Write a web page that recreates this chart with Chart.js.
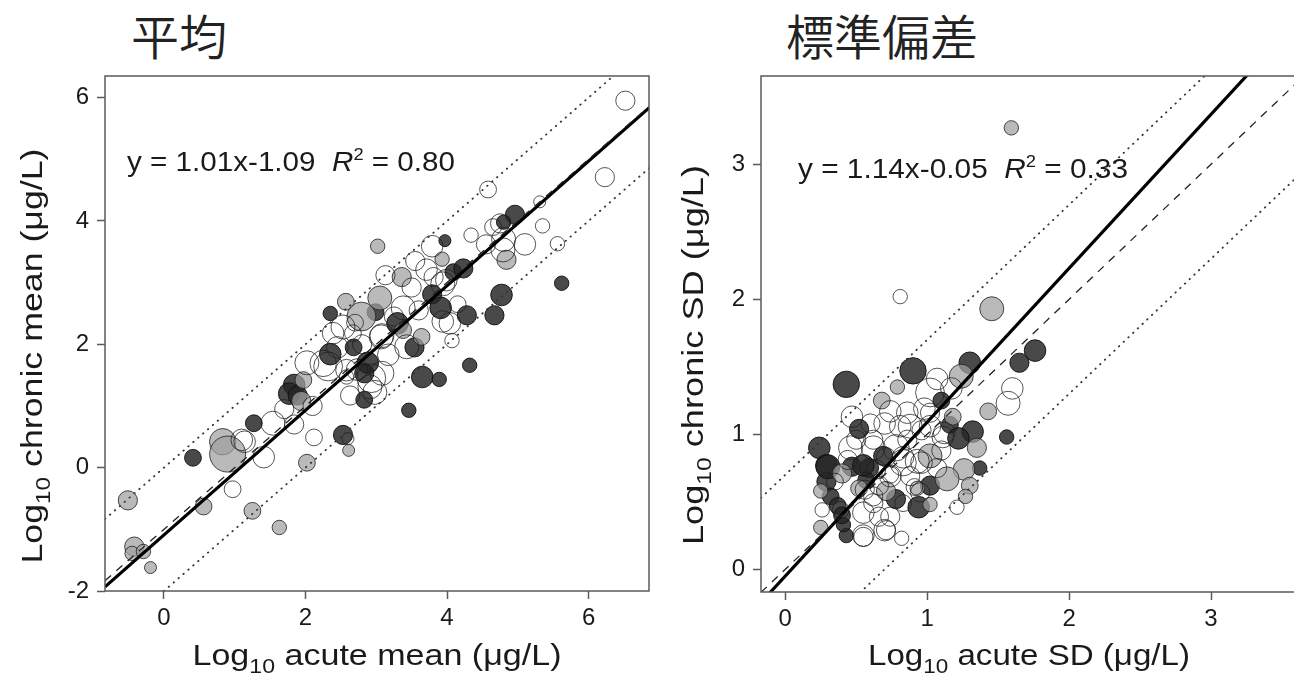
<!DOCTYPE html>
<html><head><meta charset="utf-8">
<script src="https://cdn.jsdelivr.net/npm/chart.js@4.4.1/dist/chart.umd.min.js"></script>
<style>
html,body{margin:0;padding:0;background:#fff;overflow:hidden;width:1294px;height:673px;}
#wrap{position:relative;width:1294px;height:673px;overflow:hidden;background:#fff;}
.ttl{position:absolute;top:10px;font-family:"Noto Sans CJK JP DemiLight","Noto Sans CJK JP Light","Noto Sans CJK JP",sans-serif;font-weight:200;font-size:48px;line-height:1;color:#222;white-space:nowrap;}
.box{position:absolute;top:0;}
canvas{display:block;}
</style></head>
<body><div id="wrap">
<div class="ttl" style="left:131px">平均</div>
<div class="ttl" style="left:786px">標準偏差</div>
<div class="box" style="left:0;width:700px;height:673px"><canvas id="c1" width="700" height="673"></canvas></div>
<div class="box" style="left:600px;width:720px;height:673px"><canvas id="c2" width="720" height="673"></canvas></div>
</div>
<script>
const FONT = '"Liberation Sans", Arial, Helvetica, sans-serif';

// ---------- Panel 1: mean (Log10 acute mean vs Log10 chronic mean) ----------
const meanXRange = [-0.833, 6.854];
const meanYRange = [-2, 6.35];
const meanXTicks = [0, 2, 4, 6];
const meanYTicks = [-2, 0, 2, 4, 6];
// [x, y, bubble size]
const meanOpen = [
  [6.52,5.95,8],[6.23,4.71,8],[4.58,4.51,7],[5.31,4.31,5],[5.35,3.92,6],[4.65,3.90,7],
  [4.34,3.77,6],[5.10,3.62,9],[4.80,3.70,10],[4.55,3.62,8],[5.56,3.63,6],[4.75,3.96,8],
  [4.79,3.53,10],[3.79,3.59,9],[3.71,3.21,9],[3.81,3.09,8],[3.94,2.98,10],[3.99,3.04,9],
  [3.94,2.37,9],[4.07,2.06,6],[4.04,2.34,9],[3.13,3.12,8],[3.50,2.92,8],[3.38,2.59,10],
  [2.53,2.28,10],[3.08,2.14,10],[2.39,2.18,9],[2.67,2.18,7],[3.07,2.12,10],[3.43,1.96,10],
  [3.17,1.83,9],[2.02,1.70,10],[2.25,1.69,11],[2.32,1.64,12],[2.58,1.58,9],[2.73,1.59,9],
  [3.08,1.53,10],[2.93,1.45,12],[2.58,1.47,6],[2.91,1.31,10],[2.98,1.22,10],[2.10,1.00,8],
  [2.63,1.17,8],[1.54,0.72,10],[1.84,0.70,8],[2.12,0.49,7],[2.60,0.47,5],[1.14,0.42,9],
  [1.41,0.17,9],[1.10,0.45,9],[0.97,-0.35,7],[2.45,1.95,9],[2.80,2.00,8],[3.25,2.45,8],
  [2.70,2.35,7],[3.60,2.55,8],[4.15,2.65,7],[3.55,3.35,8],[1.70,0.95,8]
];
const meanGray = [
  [4.84,3.37,8],[3.93,3.38,6],[3.02,3.59,6],[3.36,3.09,8],[3.05,2.75,10],[2.57,2.69,7],
  [2.79,2.45,12],[3.38,2.23,7],[3.64,2.12,7],[1.97,1.42,7],[1.94,1.08,8],[2.61,0.28,5],
  [2.02,0.08,7],[0.83,0.42,11],[0.90,0.22,15],[0.56,-0.63,7],[1.25,-0.70,7],[1.63,-0.97,6],
  [-0.51,-0.53,8],[-0.42,-1.28,8],[-0.45,-1.39,6],[-0.29,-1.36,6],[-0.19,-1.62,5]
];
const meanDark = [
  [4.96,4.10,8],[4.80,3.98,6],[3.97,3.68,5],[5.62,2.99,6],[4.77,2.80,9],[4.67,2.47,8],
  [4.28,2.47,8],[4.32,1.66,6],[3.65,1.47,9],[3.89,1.43,6],[3.46,0.93,6],[4.09,3.17,7],
  [4.23,3.23,8],[3.79,2.81,8],[3.91,2.59,9],[2.35,2.50,6],[2.99,2.52,7],[3.30,2.34,9],
  [3.54,1.95,8],[2.35,1.84,9],[2.68,1.95,7],[2.88,1.70,9],[2.83,1.53,8],[1.84,1.34,9],
  [1.77,1.20,9],[1.89,1.17,8],[2.83,1.10,7],[1.27,0.72,7],[2.53,0.53,8],[0.41,0.16,7]
];
const meanFit = [1.01, -1.09];      // slope, intercept (regression)
const meanRef = [1, -1];            // dashed reference line
const meanBands = [0, -2];          // intercepts of dotted lines (slope 1)
const meanEq = ['y = 1.01x-1.09  ', '0.80'];

// ---------- Panel 2: SD ----------
const sdXRange = [-0.171, 3.627];
const sdYRange = [-0.168, 3.654];
const sdXTicks = [0, 1, 2, 3];
const sdYTicks = [0, 1, 2, 3];
const sdOpen = [
  [0.81,2.02,6],[1.60,1.34,9],[1.57,1.23,10],[1.21,0.46,6],[0.82,0.23,6],[0.55,0.25,9],
  [0.70,0.29,9],[0.62,0.90,10],[0.78,0.90,11],[0.88,1.06,10],[0.70,1.08,9],[0.86,1.16,9],
  [1.02,1.31,12],[1.07,1.41,9],[1.17,1.34,9],[1.02,1.06,9],[1.12,1.01,9],[0.93,0.80,10],
  [0.83,0.83,9],[0.74,0.70,7],[0.46,0.90,10],[0.55,0.42,9],[0.26,0.44,6],[0.62,0.54,8],
  [0.95,0.57,8],[1.07,0.75,8],[0.47,1.13,9],[0.74,1.17,9],[0.81,1.06,9],[0.60,1.08,8],
  [0.62,0.96,8],[0.86,0.96,8],[0.96,1.03,8],[1.02,1.16,8],[1.11,0.98,9],[1.10,0.88,8],
  [0.50,0.96,8],[0.44,0.81,8],[0.71,0.83,8],[0.83,0.79,11],[0.96,0.79,9],[0.64,0.74,8],
  [0.74,0.69,9],[0.56,0.59,8],[0.66,0.39,8],[0.74,0.39,8],[0.71,0.29,8],[0.55,0.24,8],
  [0.62,0.49,8],[0.91,0.61,7],[0.83,0.49,7],[0.39,0.44,7],[0.35,0.65,7],[0.98,1.19,9],
  [0.66,0.62,8],[0.88,0.69,8]
];
const sdGray = [
  [1.593,3.27,6],[1.455,1.93,10],[0.79,1.35,6],[1.43,1.17,7],[1.35,0.90,8],[1.26,0.74,9],
  [1.14,0.67,10],[1.30,0.62,7],[1.27,0.54,6],[0.25,0.31,6],[0.71,0.58,8],[0.25,0.58,6],
  [0.40,0.71,8],[0.68,1.25,7],[1.24,1.43,10],[1.02,0.84,10],[0.52,0.60,7],[0.93,0.60,6],
  [1.18,1.13,7],[1.02,0.48,6]
];
const sdDark = [
  [1.76,1.62,9],[1.65,1.53,8],[1.30,1.53,9],[0.90,1.47,11],[0.43,1.37,11],[1.56,0.98,6],
  [1.32,1.02,9],[1.37,0.75,6],[0.43,0.25,6],[0.41,0.33,6],[0.94,0.46,9],[1.02,0.62,8],
  [0.78,0.52,8],[0.24,0.90,9],[0.29,0.77,9],[0.29,0.65,8],[0.32,0.54,7],[0.37,0.47,7],
  [0.47,0.76,8],[0.52,1.04,8],[0.59,0.75,8],[0.57,0.66,7],[1.10,1.25,7],[1.16,1.07,7],
  [1.22,0.97,9],[0.55,0.77,9],[0.30,0.76,10],[0.40,0.40,7],[0.69,0.84,8]
];
const sdFit = [1.14, -0.05];
const sdRef = [1, 0];
const sdBands = [0.7, -0.7];
const sdEq = ['y = 1.14x-0.05  ', '0.33'];

// ---------- helpers ----------
const R_SCALE = 1.2;
const STY = {
  open: {bg: 'rgba(255,255,255,0)',   bd: 'rgba(30,30,30,0.75)'},
  gray: {bg: 'rgba(160,160,160,0.72)', bd: 'rgba(30,30,30,0.8)'},
  dark: {bg: 'rgba(38,38,38,0.84)',   bd: 'rgba(15,15,15,0.9)'}
};
function bubbleSet(arr, kind) {
  return {
    type: 'bubble', order: 2,
    data: arr.map(([x, y, s]) => ({x, y, r: s * R_SCALE})),
    backgroundColor: STY[kind].bg, borderColor: STY[kind].bd, borderWidth: 1
  };
}
function lineSet(slope, icpt, xr, style) {
  const base = {type: 'line', order: 0, pointRadius: 0, fill: false, tension: 0,
    data: xr.map(x => ({x, y: slope * x + icpt}))};
  if (style === 'solid') return Object.assign(base, {borderColor: '#000', borderWidth: 3.2});
  if (style === 'dashed') return Object.assign(base, {borderColor: '#222', borderWidth: 1.3, borderDash: [8, 7]});
  return Object.assign(base, {borderColor: '#333', borderWidth: 1.8, borderDash: [0.5, 6], borderCapStyle: 'round'});
}
function fontFor(p, base) {
  return (p.it ? 'italic ' : '') + (base * (p.s || 1)).toFixed(1) + 'px ' + FONT;
}
function drawRich(ctx, parts, x, y, base, align, target, rot) {
  ctx.save();
  ctx.translate(x, y);
  if (rot) ctx.rotate(rot);
  let w = 0;
  parts.forEach(p => { ctx.font = fontFor(p, base); w += ctx.measureText(p.t).width; });
  const k = target ? target / w : 1;
  ctx.scale(k, 1);
  let cx = align === 'center' ? -w / 2 : 0;
  ctx.textBaseline = 'alphabetic';
  ctx.textAlign = 'left';
  ctx.fillStyle = '#1a1a1a';
  parts.forEach(p => {
    ctx.font = fontFor(p, base);
    ctx.fillText(p.t, cx, (p.dy || 0) * base);
    cx += ctx.measureText(p.t).width;
  });
  ctx.restore();
}
function axisOpts(range, ticks, isX, fitSize) {
  return {
    type: 'linear', min: range[0], max: range[1],
    position: isX ? 'bottom' : 'left',
    afterBuildTicks: s => { s.ticks = ticks.map(v => ({value: v})); },
    afterFit: s => { if (isX) s.height = fitSize; else s.width = fitSize; },
    ticks: {color: '#1a1a1a', font: {family: FONT, size: 24}, padding: isX ? 5 : 8,
      callback: v => String(v), maxRotation: 0, autoSkip: false},
    grid: {drawOnChartArea: false, drawTicks: true, tickLength: 8, tickWidth: 1.5, tickColor: '#5a5a5a'},
    border: {display: false},
    title: {display: false}
  };
}
function makeChart(id, c) {
  const ds = [
    bubbleSet(c.open, 'open'), bubbleSet(c.gray, 'gray'), bubbleSet(c.dark, 'dark'),
    lineSet(1, c.bands[0], c.xr, 'dotted'), lineSet(1, c.bands[1], c.xr, 'dotted'),
    lineSet(c.ref[0], c.ref[1], c.xr, 'dashed'),
    lineSet(c.fit[0], c.fit[1], c.xr, 'solid')
  ];
  const frame = {
    id: 'frame',
    afterDatasetsDraw(chart) {
      const a = chart.chartArea, ctx = chart.ctx;
      ctx.save();
      ctx.strokeStyle = '#5a5a5a'; ctx.lineWidth = 1.5;
      ctx.strokeRect(a.left, a.top, a.right - a.left, a.bottom - a.top);
      ctx.restore();
    },
    afterDraw(chart) {
      const ctx = chart.ctx;
      drawRich(ctx, [{t: c.eq[0]}, {t: 'R', it: true}, {t: '2', s: 0.62, dy: -0.42}, {t: ' = ' + c.eq[1]}],
        c.eqPos[0], c.eqPos[1], 27, 'left', c.eqW);
      drawRich(ctx, [{t: 'Log'}, {t: '10', s: 0.68, dy: 0.28}, {t: c.xLabel}],
        c.xtPos[0], c.xtPos[1], 29, 'center', c.xtW);
      drawRich(ctx, [{t: 'Log'}, {t: '10', s: 0.68, dy: 0.28}, {t: c.yLabel}],
        c.ytPos[0], c.ytPos[1], 30, 'center', c.ytW, -Math.PI / 2);
    }
  };
  return new Chart(document.getElementById(id), {
    type: 'bubble',
    data: {datasets: ds},
    options: {
      responsive: false, animation: false, devicePixelRatio: 1, events: [],
      layout: {padding: {left: 0, top: c.padTop, right: c.padRight, bottom: 0}},
      plugins: {legend: {display: false}, tooltip: {enabled: false}, title: {display: false}},
      scales: {
        x: axisOpts(c.xr, c.xt, true, c.xH),
        y: axisOpts(c.yr, c.yt, false, c.yW)
      }
    },
    plugins: [frame]
  });
}

makeChart('c1', {
  open: meanOpen, gray: meanGray, dark: meanDark,
  fit: meanFit, ref: meanRef, bands: meanBands,
  xr: meanXRange, yr: meanYRange, xt: meanXTicks, yt: meanYTicks,
  padTop: 76, padRight: 51, xH: 82, yW: 105,
  eq: meanEq, eqPos: [127, 171], eqW: 328,
  xLabel: ' acute mean (μg/L)', xtPos: [377, 665], xtW: 369,
  yLabel: ' chronic mean (μg/L)', ytPos: [42, 356], ytW: 415
});
makeChart('c2', {
  open: sdOpen, gray: sdGray, dark: sdDark,
  fit: sdFit, ref: sdRef, bands: sdBands,
  xr: sdXRange, yr: sdYRange, xt: sdXTicks, yt: sdYTicks,
  padTop: 76, padRight: 20, xH: 81, yW: 161,
  eq: sdEq, eqPos: [198, 178], eqW: 330,
  xLabel: ' acute SD (μg/L)', xtPos: [429, 665], xtW: 322,
  yLabel: ' chronic SD (μg/L)', ytPos: [103, 355], ytW: 380
});
</script>
</body></html>
